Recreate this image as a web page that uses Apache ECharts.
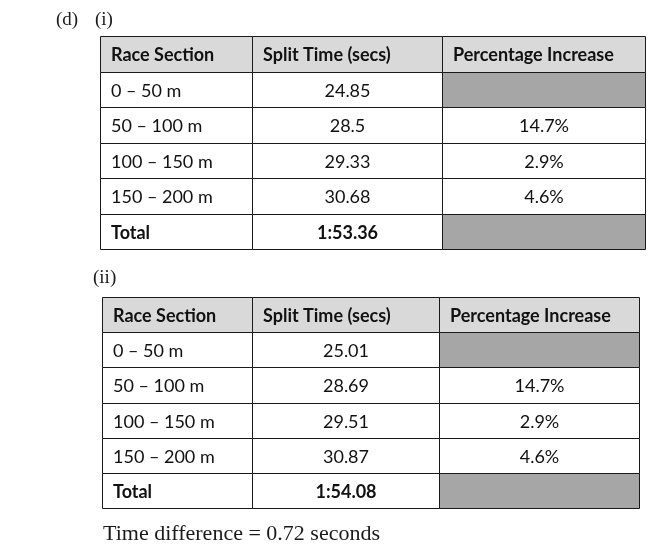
<!DOCTYPE html>
<html><head><meta charset="utf-8">
<script src="https://cdn.jsdelivr.net/npm/echarts@6/dist/echarts.min.js"></script>
<style>html,body{margin:0;padding:0;background:#fff}#c{width:650px;height:556px}</style>
</head><body><div id="c"></div>
<script>
var headers = ['Race Section', 'Split Time (secs)', 'Percentage Increase'];
var sections = ['0 – 50 m', '50 – 100 m', '100 – 150 m', '150 – 200 m'];
var totalLabel = 'Total';
var splits1 = ['24.85', '28.5', '29.33', '30.68'];
var total1 = '1:53.36';
var pct1 = [null, '14.7%', '2.9%', '4.6%'];
var splits2 = ['25.01', '28.69', '29.51', '30.87'];
var total2 = '1:54.08';
var pct2 = [null, '14.7%', '2.9%', '4.6%'];
var labelD = '(d)', labelI = '(i)', labelII = '(ii)';
var footer = 'Time difference = 0.72 seconds';

function buildCells(splits, total, pct) {
  var cells = [];
  headers.forEach(function (h, c) { cells.push({col: c, row: 0, text: h, kind: 'header'}); });
  sections.forEach(function (s, i) {
    cells.push({col: 0, row: i + 1, text: s, kind: 'normal'});
    cells.push({col: 1, row: i + 1, text: splits[i], kind: 'normal'});
    cells.push({col: 2, row: i + 1, text: pct[i] == null ? '' : pct[i], kind: pct[i] == null ? 'shaded' : 'normal'});
  });
  cells.push({col: 0, row: 5, text: totalLabel, kind: 'bold'});
  cells.push({col: 1, row: 5, text: total, kind: 'bold'});
  cells.push({col: 2, row: 5, text: '', kind: 'shaded'});
  return cells;
}
var tables = [buildCells(splits1, total1, pct1), buildCells(splits2, total2, pct2)];
var edges = [[0, 151.5, 342, 544.5], [0, 150, 337, 537]];

function makeRender(t) {
  return function (params, api) {
    var cell = tables[t][params.dataIndex];
    var e = edges[t];
    var p0 = api.coord([e[cell.col], cell.row]);
    var p1 = api.coord([e[cell.col + 1], cell.row + 1]);
    var x0 = Math.round(p0[0]) + 0.5, y0 = Math.round(p0[1]) + 0.5;
    var x1 = Math.round(p1[0]) + 0.5, y1 = Math.round(p1[1]) + 0.5;
    var fill = cell.kind === 'header' ? '#d9d9d9' : (cell.kind === 'shaded' ? '#a6a6a6' : '#ffffff');
    var bold = cell.kind === 'header' || cell.kind === 'bold';
    var left = cell.col === 0 || cell.kind === 'header';
    return {
      type: 'group',
      children: [
        {type: 'rect', shape: {x: x0, y: y0, width: x1 - x0, height: y1 - y0},
         style: {fill: fill, stroke: '#1a1a1a', lineWidth: 1}},
        {type: 'text', x: left ? x0 + 10.5 : (x0 + x1) / 2, y: (y0 + y1) / 2 + 1,
         style: {text: cell.text, fill: '#111111', font: (bold ? 'bold ' : '') + '18px Lato',
                 align: left ? 'left' : 'center', verticalAlign: 'middle'}}
      ]
    };
  };
}

var chart = echarts.init(document.getElementById('c'), null, {renderer: 'canvas'});
chart.setOption({
  animation: false,
  grid: [
    {left: 100, top: 36, width: 544.5, height: 213},
    {left: 102, top: 297, width: 537, height: 211}
  ],
  xAxis: [
    {gridIndex: 0, type: 'value', min: 0, max: 544.5, show: false},
    {gridIndex: 1, type: 'value', min: 0, max: 537, show: false}
  ],
  yAxis: [
    {gridIndex: 0, type: 'value', min: 0, max: 6, inverse: true, show: false},
    {gridIndex: 1, type: 'value', min: 0, max: 6, inverse: true, show: false}
  ],
  series: [0, 1].map(function (t) {
    return {
      type: 'custom', xAxisIndex: t, yAxisIndex: t,
      renderItem: makeRender(t),
      encode: {x: 0, y: 1},
      data: tables[t].map(function (c) { return [c.col, c.row]; }),
      silent: true
    };
  }),
  graphic: [
    {type: 'text', left: 56, top: 11, style: {text: labelD, font: '19px "Liberation Serif"', fill: '#1a1a1a'}},
    {type: 'text', left: 95, top: 11, style: {text: labelI, font: '19px "Liberation Serif"', fill: '#1a1a1a'}},
    {type: 'text', left: 93, top: 269, style: {text: labelII, font: '19px "Liberation Serif"', fill: '#1a1a1a'}},
    {type: 'text', left: 103, top: 523, style: {text: footer, font: '22px "Liberation Serif"', fill: '#1a1a1a'}}
  ]
});
</script></body></html>
